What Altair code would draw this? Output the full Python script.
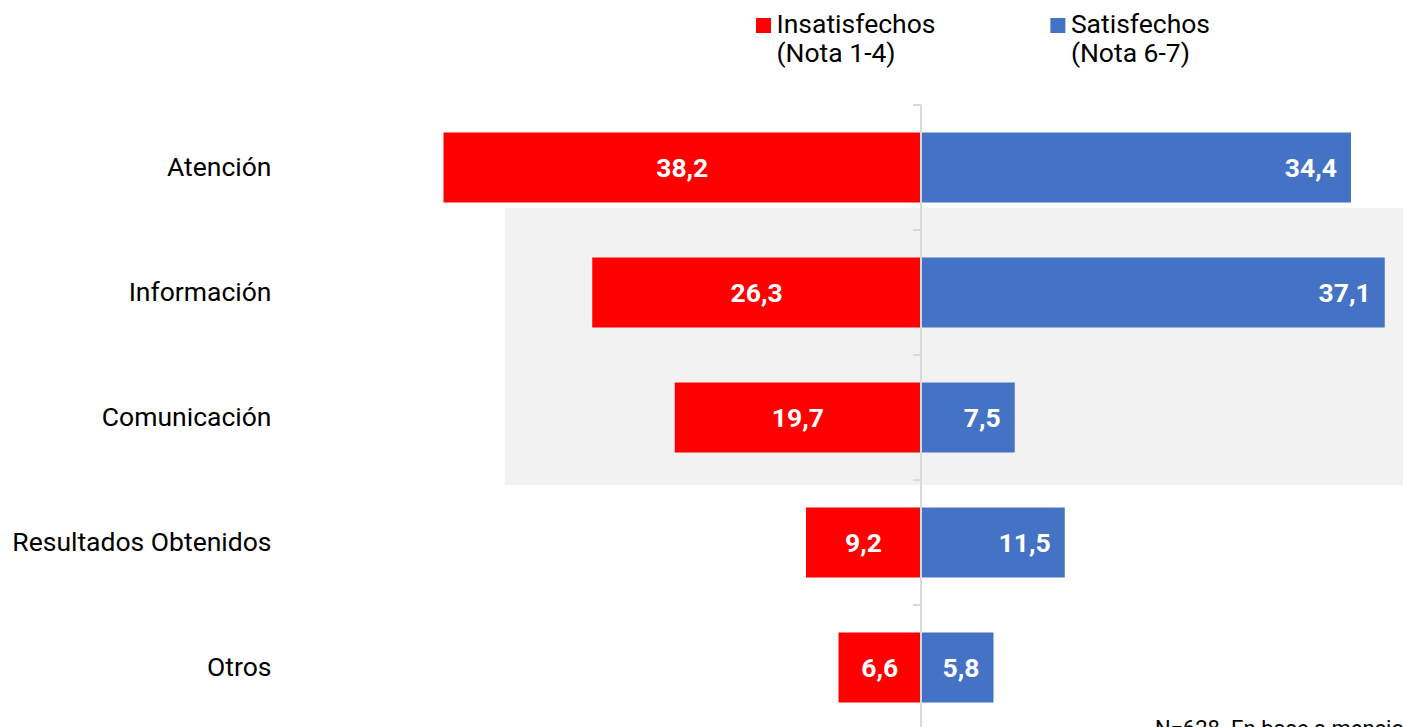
import altair as alt
import pandas as pd

categories = ["Atención", "Información", "Comunicación", "Resultados Obtenidos", "Otros"]
insatisfechos = [38.2, 26.3, 19.7, 9.2, 6.6]
satisfechos = [34.4, 37.1, 7.5, 11.5, 5.8]
legend_titles = ["Insatisfechos", "Satisfechos"]
legend_subtitles = ["(Nota 1-4)", "(Nota 6-7)"]
note_text = "N=628. En base a menciones"

RED = "#ff0000"
BLUE = "#4472c4"
FONT = "Roboto"
FS = 26.5

rows = []
for c, a, b in zip(categories, insatisfechos, satisfechos):
    rows.append({"cat": c, "grupo": "Insatisfechos", "start": -a, "end": 0.0,
                 "mid": -a / 2, "label": f"{a:.1f}".replace(".", ","),
                 "tick0": -0.64, "zero": 0.0})
    rows.append({"cat": c, "grupo": "Satisfechos", "start": 0.0, "end": b,
                 "mid": b, "label": f"{b:.1f}".replace(".", ","),
                 "tick0": -0.64, "zero": 0.0})
df = pd.DataFrame(rows)

xscale = alt.Scale(domain=[-51.04, 38.56], nice=False, zero=False)
yscale = alt.Scale(domain=categories, range=[0, 625], paddingInner=0, paddingOuter=0)

base = alt.Chart(df)

hl = pd.DataFrame({"x1": [-33.3], "x2": [45.0]})
highlight = alt.Chart(hl).mark_rect(color="#f2f2f2").encode(
    x=alt.X("x1:Q", scale=xscale, axis=None),
    x2="x2:Q",
    y=alt.value(103),
    y2=alt.value(380),
)

bars = base.mark_bar(size=70).encode(
    y=alt.Y("cat:N", scale=yscale, sort=categories,
            axis=alt.Axis(title=None, domain=False, ticks=False, labelFontSize=FS,
                          labelFont=FONT, labelColor="#000000", labelPadding=12,
                          labelLimit=0)),
    x=alt.X("start:Q", scale=xscale, axis=None),
    x2="end:Q",
    color=alt.Color("grupo:N", scale=alt.Scale(domain=legend_titles, range=[RED, BLUE]),
                    legend=None),
)

red_labels = base.transform_filter(alt.datum.grupo == "Insatisfechos").mark_text(
    color="white", fontWeight="bold", fontSize=FS, font=FONT, align="center",
    baseline="middle", dy=1
).encode(y=alt.Y("cat:N", scale=yscale, sort=categories), x=alt.X("mid:Q", scale=xscale),
         text="label:N")

blue_labels = base.transform_filter(alt.datum.grupo == "Satisfechos").mark_text(
    color="white", fontWeight="bold", fontSize=FS, font=FONT, align="right",
    baseline="middle", dx=-14, dy=1
).encode(y=alt.Y("cat:N", scale=yscale, sort=categories), x=alt.X("mid:Q", scale=xscale),
         text="label:N")

zero_line = base.transform_filter(alt.datum.grupo == "Insatisfechos").mark_rule(
    color="#d9d9d9", strokeWidth=2
).encode(
    x=alt.X("zero:Q", scale=xscale),
    y=alt.value(0),
    y2=alt.value(625),
)

ticks = base.transform_filter(alt.datum.grupo == "Insatisfechos").mark_rule(
    color="#d9d9d9", strokeWidth=2
).encode(
    y=alt.Y("cat:N", scale=yscale, sort=categories, bandPosition=0),
    x=alt.X("tick0:Q", scale=xscale),
    x2="zero:Q",
)

leg = pd.DataFrame({"t": legend_titles, "s": legend_subtitles, "c": [RED, BLUE],
                    "lx": [-12.6, 10.95]})
leg_sq = alt.Chart(leg).mark_square(size=225, opacity=1).encode(
    x=alt.X("lx:Q", scale=xscale),
    y=alt.value(-79.5),
    color=alt.Color("c:N", scale=None),
)
leg_t1 = alt.Chart(leg).mark_text(align="left", baseline="alphabetic", fontSize=FS,
                                  font=FONT, color="#000000", dx=13).encode(
    x=alt.X("lx:Q", scale=xscale), y=alt.value(-72), text="t:N")
leg_t2 = alt.Chart(leg).mark_text(align="left", baseline="alphabetic", fontSize=FS,
                                  font=FONT, color="#000000", dx=13).encode(
    x=alt.X("lx:Q", scale=xscale), y=alt.value(-43), text="s:N")

note = alt.Chart(pd.DataFrame({"n": [note_text]})).mark_text(
    align="left", baseline="alphabetic", fontSize=22, font=FONT, color="#000000"
).encode(x=alt.value(872), y=alt.value(631), text="n:N")

chart = alt.layer(
    highlight, bars, red_labels, blue_labels, zero_line, ticks, leg_sq, leg_t1, leg_t2, note
).properties(
    width=1120, height=622,
    background="white",
    autosize=alt.AutoSizeParams(type="none"),
    padding={"left": 283, "top": 105, "right": 0, "bottom": 0},
).configure_view(stroke=None, strokeWidth=0)

chart.save("out.html", embed_options={"renderer": "svg", "actions": False})
